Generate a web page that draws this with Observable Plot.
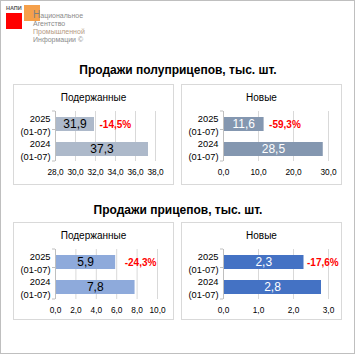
<!DOCTYPE html>
<html>
<head>
<meta charset="utf-8">
<script src="https://cdn.jsdelivr.net/npm/d3@7"></script>
<script src="https://cdn.jsdelivr.net/npm/@observablehq/plot@0.6"></script>
<style>
  html, body { margin: 0; padding: 0; background: #fff; }
  body { width: 356px; height: 356px; position: relative; overflow: hidden; font-family: "Liberation Sans", Arial, sans-serif; }
  #frame { position: absolute; left: 0; top: 0; width: 355px; height: 354px; border: 1px solid #bfbfbf; box-sizing: border-box; }
  .title { position: absolute; left: 0; width: 356px; text-align: center; font-weight: bold; font-size: 12px; color: #000; }
  .panel { position: absolute; width: 161px; border: 1px solid #d9d9d9; box-sizing: border-box; background: #fff; }
  .panel .ptitle { position: absolute; left: 0; width: 100%; top: 7px; text-align: center; font-size: 10px; color: #000; }
  .panel .chart { position: absolute; left: 0; top: 17px; }
  .logo-text { position: absolute; left: 33px; top: 11px; font-size: 7px; line-height: 8px; color: #8a8a8a; white-space: nowrap; }
</style>
</head>
<body>
<div id="frame"></div>
<div style="position:absolute;left:6px;top:5px;font-size:5.5px;font-weight:bold;color:#595959;">НАПИ</div>
<div style="position:absolute;left:6px;top:13px;width:16px;height:16px;background:#ff0000;"></div>
<div style="position:absolute;left:24px;top:5px;width:16px;height:16px;background:#f5a04a;"></div>
<div class="logo-text"><span style="font-size:10px;color:#7f7f7f;">Н</span>ациональное<br>Агентство<br><span style="color:#b49a82">Промышленной</span><br>Информации ©</div>

<div class="title" style="top:63px;">Продажи полуприцепов, тыс. шт.</div>
<div class="title" style="top:203px;">Продажи прицепов, тыс. шт.</div>

<div class="panel" id="p1" style="left:13px;top:84px;height:101px;"><div class="ptitle">Подержанные</div><div class="chart"></div></div>
<div class="panel" id="p2" style="left:181px;top:84px;height:101px;"><div class="ptitle">Новые</div><div class="chart"></div></div>
<div class="panel" id="p3" style="left:13px;top:222px;height:98px;"><div class="ptitle">Подержанные</div><div class="chart"></div></div>
<div class="panel" id="p4" style="left:181px;top:222px;height:98px;"><div class="ptitle">Новые</div><div class="chart"></div></div>

<script>
// ---- data ----
const categories = ["2025\n(01-07)", "2024\n(01-07)"];
const semiUsed = [31.9, 37.3];
const semiNew = [11.6, 28.5];
const trailUsed = [5.9, 7.8];
const trailNew = [2.3, 2.8];
const changes = ["-14,5%", "-59,3%", "-24,3%", "-17,6%"];
const ticksSemiUsed = [28, 30, 32, 34, 36, 38];
const ticksSemiNew = [0, 10, 20, 30];
const ticksTrailUsed = [0, 2, 4, 6, 8, 10];
const ticksTrailNew = [0, 1, 2, 3];

const fmt = v => v.toFixed(1).replace(".", ",");

function makePanel(sel, values, ticks, color, labelColor, change, marginRight, changeDx) {
  const data = categories.map((c, i) => ({cat: c, v: values[i]}));
  const x0 = ticks[0], xN = ticks[ticks.length - 1];
  const W = 159, H = 80, mT = 9, mB = 21, mL = 41;
  const plot = Plot.plot({
    width: W, height: H,
    marginTop: mT, marginBottom: mB, marginLeft: mL, marginRight: marginRight,
    style: {fontFamily: "'Liberation Sans', Arial, sans-serif", background: "transparent", overflow: "visible"},
    x: {domain: [x0, xN]},
    y: {domain: categories, paddingInner: 0.46, paddingOuter: 0.23},
    marks: [
      Plot.gridX(ticks, {stroke: "#d9d9d9", strokeOpacity: 1}),
      Plot.barX(data, {y: "cat", x1: d => x0, x2: "v", fill: color}),
      Plot.ruleX([x0], {stroke: "#bfbfbf"}),
      Plot.text(data, {y: "cat", x: d => (x0 + d.v) / 2, text: d => fmt(d.v), fill: labelColor, fontSize: 12}),
      Plot.text([data[0]], {y: "cat", x: "v", text: d => change, dx: changeDx, textAnchor: "start", fill: "#ff0000", fontWeight: "bold", fontSize: 10}),
      Plot.axisX(ticks, {tickSize: 0, tickPadding: 8, tickFormat: fmt, fontSize: 8.3, fill: "#000", label: null}),
      Plot.axisY({tickSize: 0, tickPadding: 5, fontSize: 9.3, lineHeight: 1.35, fill: "#000", label: null})
    ]
  });
  // category-axis tick marks at band boundaries (Excel style)
  const y = plot.scale("y");
  const [r0, r1] = y.range;
  const mid = (y.apply(categories[0]) + y.apply(categories[1])) / 2;
  d3.select(plot).selectAll("line.catTick").data([r0, mid, r1]).join("line")
    .attr("x1", mL - 3).attr("x2", mL).attr("y1", d => d).attr("y2", d => d)
    .attr("stroke", "#bfbfbf");
  document.querySelector(sel + " .chart").append(plot);
}

makePanel("#p1", semiUsed, ticksSemiUsed, "#adb9ca", "#000", changes[0], 18, 5);
makePanel("#p2", semiNew, ticksSemiNew, "#8497b0", "#fff", changes[1], 13, 5);
makePanel("#p3", trailUsed, ticksTrailUsed, "#8eaadb", "#000", changes[2], 16, 9);
makePanel("#p4", trailNew, ticksTrailNew, "#4472c4", "#fff", changes[3], 13, 3);
</script>
</body>
</html>
